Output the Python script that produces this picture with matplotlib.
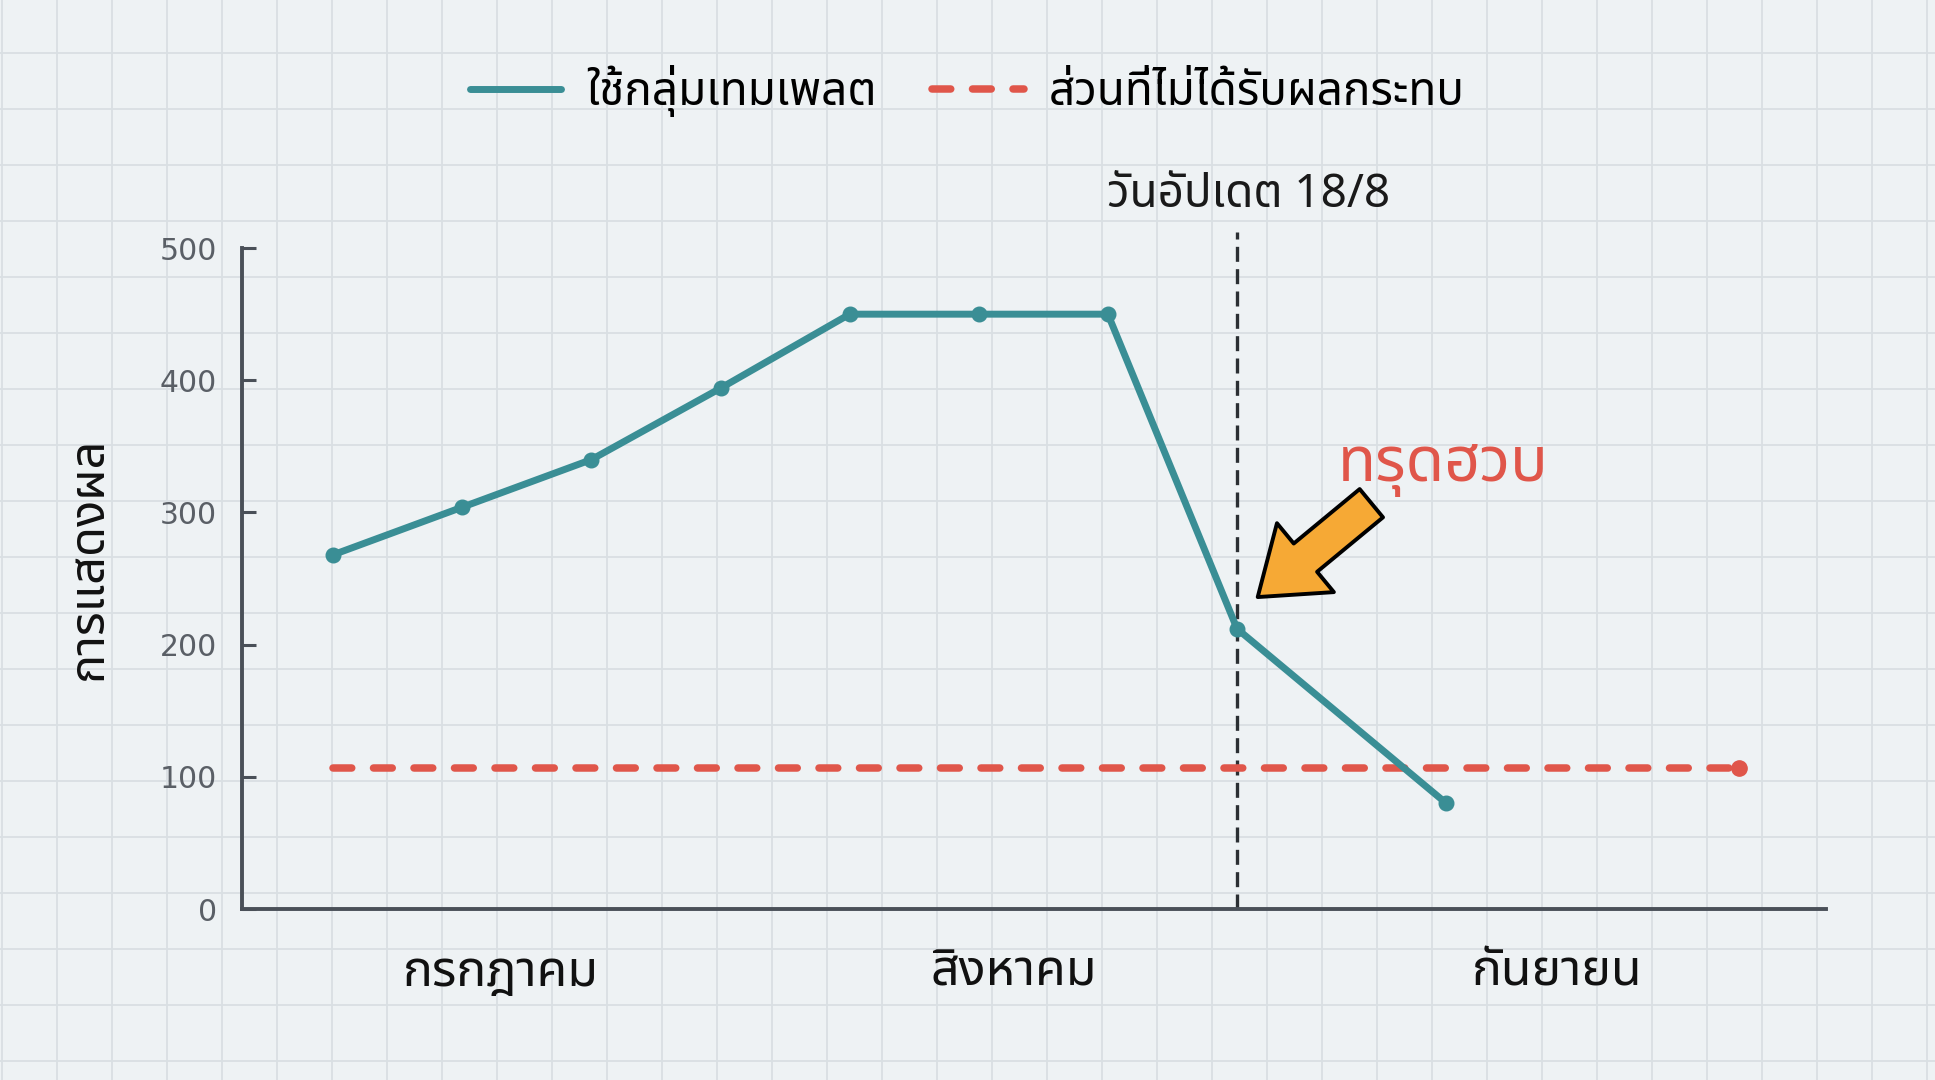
import matplotlib
matplotlib.use("Agg")
import matplotlib.pyplot as plt
from matplotlib import font_manager as fm
from matplotlib.ft2font import FT2Font
from matplotlib.transforms import blended_transform_factory

# ---------------- data ----------------
week_pos = [0, 1, 2, 3, 4, 5, 6, 7, 8.62]          # weekly observations (x position, weeks)
template_views = [268, 304, 340, 394, 450, 450, 450, 212, 80]
baseline_pos = [0, 10.89]
baseline_views = [107, 107]
update_pos = 7
update_label = "วันอัปเดต 18/8"
month_pos = [1.30, 5.27, 9.48]
month_labels = ["กรกฎาคม", "สิงหาคม", "กันยายน"]
y_ticks = [0, 100, 200, 300, 400, 500]
series_names = ["ใช้กลุ่มเทมเพลต", "ส่วนที่ไม่ได้รับผลกระทบ"]
y_title = "การแสดงผล"
drop_label = "ทรุดฮวบ"

# ---------------- fonts ----------------
def find_thai():
    prefs = ['Noto Sans Thai', 'Noto Sans Thai UI', 'Noto Sans Thai Looped', 'Sarabun',
             'Kanit', 'Prompt', 'Loma', 'Garuda', 'Waree', 'Norasi', 'Tlwg Typist']
    names = {f.name for f in fm.fontManager.ttflist}
    for p in prefs:
        if p in names:
            return p
    for f in fm.fontManager.ttflist:
        try:
            if 0x0E01 in FT2Font(f.fname).get_charmap():
                return f.name
        except Exception:
            pass
    return None

thai = find_thai()
THAI = [thai, 'DejaVu Sans'] if thai else ['DejaVu Sans']
plt.rcParams['font.family'] = THAI

TEAL = '#3a8e95'
RED = '#e0564a'
SPINE = '#4a5058'
BG = '#eef2f4'
GRID = '#d9dfe3'

fig = plt.figure(figsize=(19.35, 10.8), dpi=100, facecolor=BG)

# graph-paper background
bg = fig.add_axes([0, 0, 1, 1], zorder=-5)
bg.set_xlim(0, 1935)
bg.set_ylim(1080, 0)
bg.set_facecolor(BG)
for v in range(2, 1935, 55):
    bg.axvline(v, color=GRID, lw=1.3)
for h in range(-3, 1080, 56):
    bg.axhline(h, color=GRID, lw=1.3)
bg.axis('off')
bg.add_patch(plt.Rectangle((0, 0), 1935, 1080, color=BG, zorder=-10))

ax = fig.add_axes([0.125, 0.1583, 0.8186, 0.612])
ax.set_facecolor('none')
ax.set_xlim(-0.707, 11.56)
ax.set_ylim(0, 500)

# series
ax.plot(baseline_pos, baseline_views, color=RED, lw=5.4, ls=(0, (2.5, 2.9)),
        dash_capstyle='round', marker='o', markevery=[1], ms=11,
        label=series_names[1], zorder=3)
ax.plot(week_pos, template_views, color=TEAL, lw=5.0, marker='o', ms=10.5,
        solid_capstyle='round', label=series_names[0], zorder=4)

# update line
ax.plot([update_pos, update_pos], [0, 512], color='#2b2f33', lw=2.4,
        ls=(0, (4.5, 2.2)), clip_on=False, zorder=2)
ax.text(update_pos + 0.09, 1.08, update_label,
        transform=blended_transform_factory(ax.transData, ax.transAxes),
        ha='center', va='center', fontsize=33, fontweight='medium', color='#1a1a1a', family=THAI)

# annotation arrow + text
drop_x, drop_y = week_pos[7], template_views[7]
ax.annotate('', xy=(drop_x + 0.16, drop_y + 24), xytext=(drop_x + 1.04, drop_y + 95),
            arrowprops=dict(arrowstyle='simple,head_length=1.35,head_width=1.95,tail_width=0.8',
                            fc='#f6a935', ec='black', lw=2.8, mutation_scale=33,
                            shrinkA=0, shrinkB=0), zorder=6)
ax.text(drop_x + 1.6, drop_y + 123, drop_label, ha='center', va='center',
        fontsize=45, fontweight='medium', color=RED, family=THAI, zorder=6)

# axes styling
for s in ['top', 'right']:
    ax.spines[s].set_visible(False)
for s in ['left', 'bottom']:
    ax.spines[s].set_color(SPINE)
    ax.spines[s].set_linewidth(2.8)
ax.set_yticks(y_ticks)
ax.set_yticklabels([str(t) for t in y_ticks], family='DejaVu Sans')
ax.tick_params(axis='y', direction='in', length=10, width=2.2, color=SPINE,
               labelsize=21.5, labelcolor='#5a5f66', pad=18)
ax.set_xticks(month_pos)
ax.set_xticklabels(month_labels, family=THAI, fontweight='medium')
ax.tick_params(axis='x', length=0, labelsize=36, labelcolor='#111111', pad=28)
ax.set_ylabel(y_title, fontsize=35, color='#111111', family=THAI, fontweight='medium')
ax.yaxis.set_label_coords(-0.081, 0.53)
ax.grid(False)

handles, labels = ax.get_legend_handles_labels()
leg = ax.legend(handles[::-1], labels[::-1], loc='center', bbox_to_anchor=(0.458, 1.238),
                ncol=2, frameon=False, handlelength=2.0, handletextpad=0.55,
                columnspacing=1.2, prop={'family': THAI, 'size': 33, 'weight': 'medium'})
for h in leg.legend_handles:
    h.set_marker('')

fig.savefig('out.png', dpi=100, facecolor=BG)
